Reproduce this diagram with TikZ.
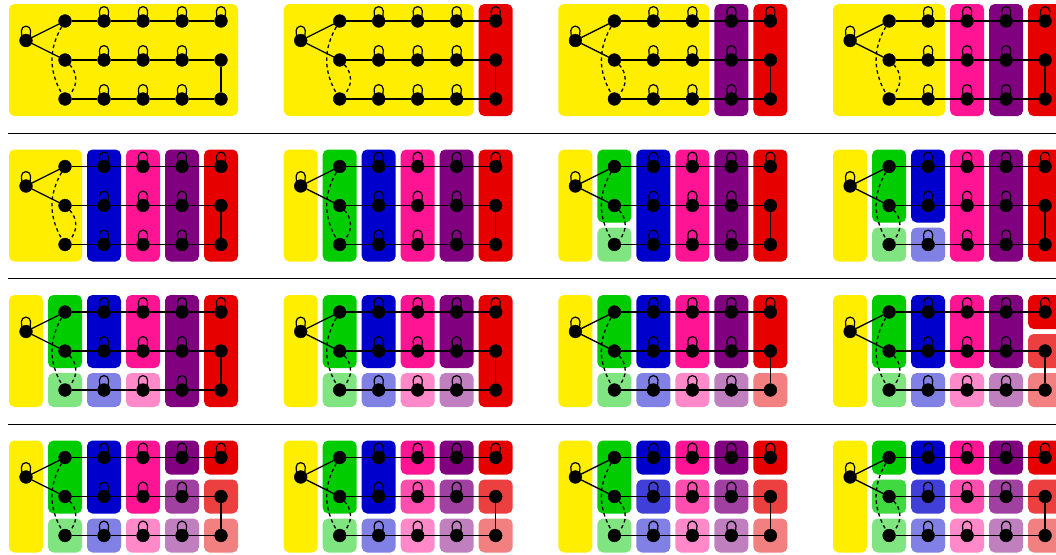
\documentclass[tikz,border=0pt]{standalone}
\definecolor{cy}{RGB}{255,238,0}
\definecolor{cg}{RGB}{0,204,0}
\definecolor{cb}{RGB}{0,0,204}
\definecolor{cp}{RGB}{255,20,147}
\definecolor{cu}{RGB}{128,0,128}
\definecolor{cr}{RGB}{230,0,0}
\tikzset{
  dot/.style={circle,fill=black,draw=black,line width=0.4pt,inner sep=0pt,minimum size=12.8pt},
  edge/.style={draw=black,line width=1.3pt},
  dashedge/.style={draw=black,line width=1.3pt,dash pattern=on 3.5pt off 3pt},
  selfloop/.style={draw=black,line width=1.2pt},
  region/.style={rounded corners=5.5pt},
  sepline/.style={draw=black,line width=1pt}
}
% region: columns #1..#2, rows #3..#4, colour #5
\newcommand\rg[5]{\fill[region,#5] ({39*#1-17},{39*(#3-1)-17}) rectangle ({39*#2+17},{39*(#4-1)+17});}
\newcommand\colfull[2]{\rg{#1}{#1}{1}{3}{#2}}
\newcommand\coltwo[2]{\rg{#1}{#1}{1}{2}{#2}\rg{#1}{#1}{3}{3}{#2!50}}
\newcommand\colthree[2]{\rg{#1}{#1}{1}{1}{#2}\rg{#1}{#1}{2}{2}{#2!75}\rg{#1}{#1}{3}{3}{#2!50}}
\newcommand\gr[1]{%
  \node[dot] (#1r) at (0,19.5) {};
  \foreach \c/\n in {1/a,2/b,3/c,4/d,5/e}{%
    \foreach \r in {1,2,3}{\node[dot] (#1\n\r) at ({39*\c},{39*(\r-1)}) {};}}
  \foreach \n in {r,b1,c1,d1,e1,b2,c2,d2,b3,c3,d3}{%
    \draw[selfloop] ([xshift=-4.0pt,yshift=3pt]#1\n.center) -- ++(-0.6pt,6.8pt)
      .. controls +(0pt,2.55pt) and +(-2.55pt,0pt) .. ++(4.6pt,4.6pt)
      .. controls +(2.55pt,0pt) and +(0pt,2.55pt) .. ++(4.6pt,-4.6pt) -- ++(-0.6pt,-6.8pt);}
  \draw[edge] (#1r) -- (#1a1);
  \draw[edge] (#1r) -- (#1a2);
  \foreach \r in {1,2,3}{\draw[edge] (#1a\r) -- (#1b\r) -- (#1c\r) -- (#1d\r) -- (#1e\r);}
  \draw[edge] (#1e2) -- (#1e3);
  \draw[dashedge] (#1a1) to[bend right=30] (#1a3);
  \draw[dashedge] (#1a2) to[bend left=45] (#1a3);
}
\begin{document}
\begin{tikzpicture}[x=1pt,y=-1pt]
\useasboundingbox (0,0) rectangle (1056,554);
\clip (0,0) rectangle (1056,554);
\fill[white] (0,0) rectangle (1056,554);
% separators
\foreach \j in {0,1,2}{\draw[sepline] (8,{133.3+145.5*\j}) -- (1060,{133.3+145.5*\j});}
% row 1
\begin{scope}[shift={(26,21)}]
  \rg{0}{5}{1}{3}{cy}
  \gr{pa}
\end{scope}
\begin{scope}[shift={(300.7,21)}]
  \rg{0}{4}{1}{3}{cy}\colfull{5}{cr}
  \gr{pb}
\end{scope}
\begin{scope}[shift={(575.4,21)}]
  \rg{0}{3}{1}{3}{cy}\colfull{4}{cu}\colfull{5}{cr}
  \gr{pc}
\end{scope}
\begin{scope}[shift={(850.1,21)}]
  \rg{0}{2}{1}{3}{cy}\colfull{3}{cp}\colfull{4}{cu}\colfull{5}{cr}
  \gr{pd}
\end{scope}
% row 2
\begin{scope}[shift={(26,166.5)}]
  \rg{0}{1}{1}{3}{cy}\colfull{2}{cb}\colfull{3}{cp}\colfull{4}{cu}\colfull{5}{cr}
  \gr{pe}
\end{scope}
\begin{scope}[shift={(300.7,166.5)}]
  \colfull{0}{cy}\colfull{1}{cg}\colfull{2}{cb}\colfull{3}{cp}\colfull{4}{cu}\colfull{5}{cr}
  \gr{pf}
\end{scope}
\begin{scope}[shift={(575.4,166.5)}]
  \colfull{0}{cy}\coltwo{1}{cg}\colfull{2}{cb}\colfull{3}{cp}\colfull{4}{cu}\colfull{5}{cr}
  \gr{pg}
\end{scope}
\begin{scope}[shift={(850.1,166.5)}]
  \colfull{0}{cy}\coltwo{1}{cg}\coltwo{2}{cb}\colfull{3}{cp}\colfull{4}{cu}\colfull{5}{cr}
  \gr{ph}
\end{scope}
% row 3
\begin{scope}[shift={(26,312)}]
  \colfull{0}{cy}\coltwo{1}{cg}\coltwo{2}{cb}\coltwo{3}{cp}\colfull{4}{cu}\colfull{5}{cr}
  \gr{pi}
\end{scope}
\begin{scope}[shift={(300.7,312)}]
  \colfull{0}{cy}\coltwo{1}{cg}\coltwo{2}{cb}\coltwo{3}{cp}\coltwo{4}{cu}\colfull{5}{cr}
  \gr{pj}
\end{scope}
\begin{scope}[shift={(575.4,312)}]
  \colfull{0}{cy}\coltwo{1}{cg}\coltwo{2}{cb}\coltwo{3}{cp}\coltwo{4}{cu}\coltwo{5}{cr}
  \gr{pk}
\end{scope}
\begin{scope}[shift={(850.1,312)}]
  \colfull{0}{cy}\coltwo{1}{cg}\coltwo{2}{cb}\coltwo{3}{cp}\coltwo{4}{cu}\colthree{5}{cr}
  \gr{pl}
\end{scope}
% row 4
\begin{scope}[shift={(26,457.5)}]
  \colfull{0}{cy}\coltwo{1}{cg}\coltwo{2}{cb}\coltwo{3}{cp}\colthree{4}{cu}\colthree{5}{cr}
  \gr{pm}
\end{scope}
\begin{scope}[shift={(300.7,457.5)}]
  \colfull{0}{cy}\coltwo{1}{cg}\coltwo{2}{cb}\colthree{3}{cp}\colthree{4}{cu}\colthree{5}{cr}
  \gr{pn}
\end{scope}
\begin{scope}[shift={(575.4,457.5)}]
  \colfull{0}{cy}\coltwo{1}{cg}\colthree{2}{cb}\colthree{3}{cp}\colthree{4}{cu}\colthree{5}{cr}
  \gr{po}
\end{scope}
\begin{scope}[shift={(850.1,457.5)}]
  \colfull{0}{cy}\colthree{1}{cg}\colthree{2}{cb}\colthree{3}{cp}\colthree{4}{cu}\colthree{5}{cr}
  \gr{pq}
\end{scope}
\end{tikzpicture}
\end{document}
